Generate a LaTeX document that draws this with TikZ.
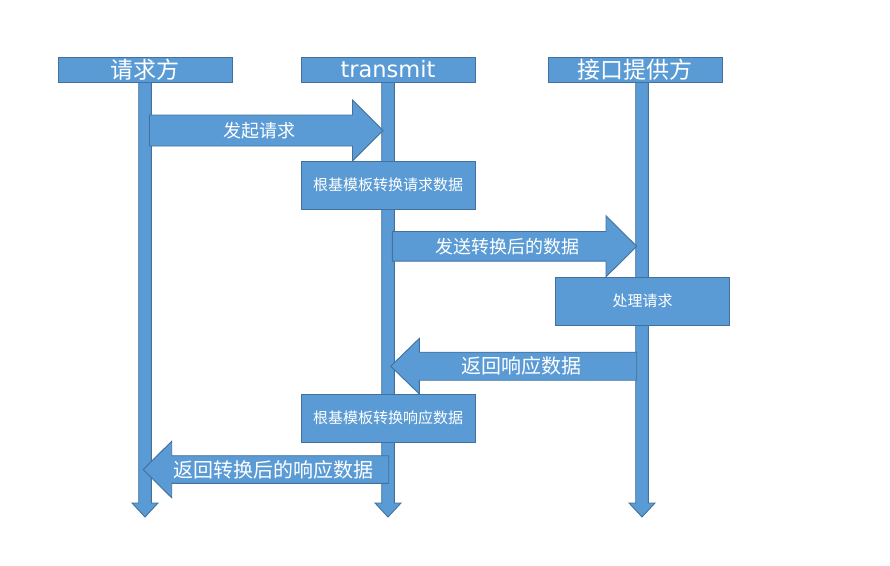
\documentclass[tikz,border=0pt]{standalone}
\usepackage{fontspec}
\newfontfamily\cjk{Noto Sans CJK SC}
\newfontfamily\dejavu{DejaVu Sans}
\definecolor{boxfill}{HTML}{5B9BD5}
\definecolor{boxline}{HTML}{41719C}
\tikzset{
  base/.style={fill=boxfill, draw=boxline, line width=0.9pt},
  hdr/.style={base, minimum width=174pt, minimum height=25pt, inner sep=0pt, text=white},
  proc/.style={base, minimum width=174pt, minimum height=48pt, inner sep=0pt, text=white, font=\cjk\fontsize{15}{18}\selectfont},
  lifeline/.style={base, line join=miter},
  blockarr/.style={base, line join=miter},
  msg/.style={text=white, inner sep=0pt},
  big/.style={font=\cjk\fontsize{18}{21}\selectfont},
  bigger/.style={font=\cjk\fontsize{20}{23}\selectfont}
}
% #1 tail x, #2 head base x, #3 tip x, #4 y, #5 body half, #6 head half
\newcommand\myblockarrow[6]{%
  \draw[blockarr] (#1,#4-#5) -- (#2,#4-#5) -- (#2,#4-#6) -- (#3,#4) -- (#2,#4+#6) -- (#2,#4+#5) -- (#1,#4+#5) -- cycle;}
% #1 name of header node, #2 centre x
\newcommand\mylifeline[2]{%
  \draw[lifeline] ([xshift=-6.3pt]#1.south) -- ([xshift=-6.3pt]#2,503) -- ([xshift=-13pt]#2,503) -- (#2,517) -- ([xshift=13pt]#2,503) -- ([xshift=6.3pt]#2,503) -- ([xshift=6.3pt]#1.south) -- cycle;}
\begin{document}
\begin{tikzpicture}[x=1pt,y=-1pt]
\useasboundingbox (0,0) rectangle (890,565);
% header nodes positions
\path (145,69.5) coordinate (p1) (388,69.5) coordinate (p2) (635,69.5) coordinate (p3);
\node[hdr, minimum width=174pt] (h1) at (p1) {};
\node[hdr] (h2) at (p2) {};
\node[hdr] (h3) at (p3) {};
% lifelines
\coordinate (s1) at (145,82);
\coordinate (s2) at (388,82);
\coordinate (s3) at (642,82);
\mylifeline{s1}{145}
\mylifeline{s2}{388}
\mylifeline{s3}{642}
% headers on top
\node[hdr, font=\cjk\fontsize{23}{26}\selectfont] (h1) at (p1) {请求方};
\node[hdr, font=\dejavu\fontsize{22.5}{26}\selectfont] (h2) at (p2) {transmit};
\node[hdr, font=\cjk\fontsize{23}{26}\selectfont] (h3) at (p3) {接口提供方};
% message 1
\myblockarrow{149.5}{352.5}{383}{130.5}{15.5}{30.5}
\node[msg, big] (m1) at (259,130.5) {发起请求};
% process box 1
\node[proc] (b1) at (388,185) {根基模板转换请求数据};
% message 2
\myblockarrow{392.3}{606}{636.7}{246.3}{14.8}{30.5}
\node[msg, big] (m2) at (507,246.3) {发送转换后的数据};
% process box 2
\node[proc] (b2) at (642.5,301.2) {处理请求};
% message 3
\myblockarrow{636.7}{419.3}{390.7}{366.2}{14}{27.8}
\node[msg, bigger] (m3) at (521,366.2) {返回响应数据};
% process box 3
\node[proc] (b3) at (388,418.2) {根基模板转换响应数据};
% message 4
\myblockarrow{388.7}{171.7}{143.3}{469.5}{13.8}{28.3}
\node[msg, bigger] (m4) at (273,469.5) {返回转换后的响应数据};
\end{tikzpicture}
\end{document}
